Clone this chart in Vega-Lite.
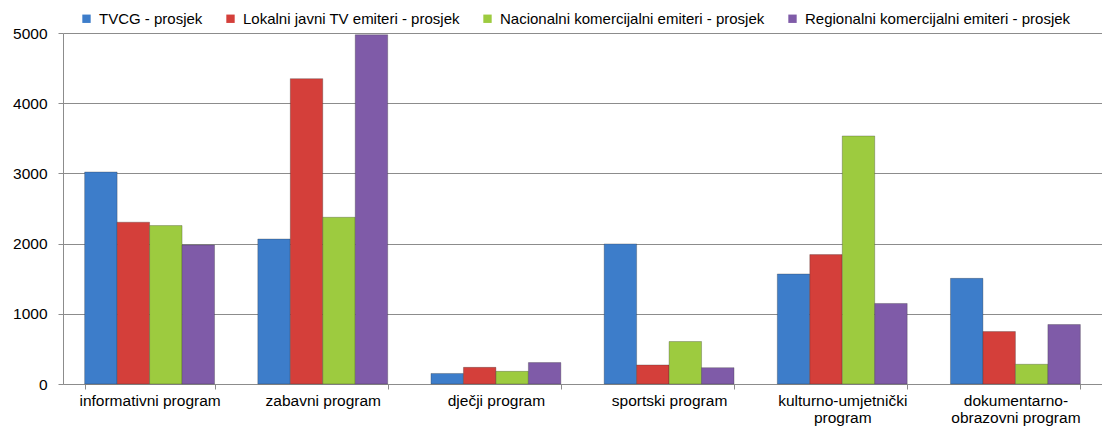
{
  "$schema": "https://vega.github.io/schema/vega-lite/v6.json",
  "width": 1039,
  "height": 351,
  "autosize": {"type": "none"},
  "padding": {"left": 63, "top": 33, "right": 0, "bottom": 44},
  "background": "white",
  "config": {"view": {"stroke": null}, "font": "Liberation Sans"},
  "data": {
    "values": [
      {"program": "informativni program", "serija": "TVCG - prosjek", "vrijednost": 3020},
      {"program": "informativni program", "serija": "Lokalni javni TV emiteri - prosjek", "vrijednost": 2305},
      {"program": "informativni program", "serija": "Nacionalni komercijalni emiteri - prosjek", "vrijednost": 2257},
      {"program": "informativni program", "serija": "Regionalni komercijalni emiteri - prosjek", "vrijednost": 1980},
      {"program": "zabavni program", "serija": "TVCG - prosjek", "vrijednost": 2065},
      {"program": "zabavni program", "serija": "Lokalni javni TV emiteri - prosjek", "vrijednost": 4350},
      {"program": "zabavni program", "serija": "Nacionalni komercijalni emiteri - prosjek", "vrijednost": 2375},
      {"program": "zabavni program", "serija": "Regionalni komercijalni emiteri - prosjek", "vrijednost": 4975},
      {"program": "dječji program", "serija": "TVCG - prosjek", "vrijednost": 150},
      {"program": "dječji program", "serija": "Lokalni javni TV emiteri - prosjek", "vrijednost": 237},
      {"program": "dječji program", "serija": "Nacionalni komercijalni emiteri - prosjek", "vrijednost": 180},
      {"program": "dječji program", "serija": "Regionalni komercijalni emiteri - prosjek", "vrijednost": 305},
      {"program": "sportski program", "serija": "TVCG - prosjek", "vrijednost": 1995},
      {"program": "sportski program", "serija": "Lokalni javni TV emiteri - prosjek", "vrijednost": 271},
      {"program": "sportski program", "serija": "Nacionalni komercijalni emiteri - prosjek", "vrijednost": 605},
      {"program": "sportski program", "serija": "Regionalni komercijalni emiteri - prosjek", "vrijednost": 233},
      {"program": "kulturno-umjetnički program", "serija": "TVCG - prosjek", "vrijednost": 1567},
      {"program": "kulturno-umjetnički program", "serija": "Lokalni javni TV emiteri - prosjek", "vrijednost": 1843},
      {"program": "kulturno-umjetnički program", "serija": "Nacionalni komercijalni emiteri - prosjek", "vrijednost": 3533},
      {"program": "kulturno-umjetnički program", "serija": "Regionalni komercijalni emiteri - prosjek", "vrijednost": 1147},
      {"program": "dokumentarno-obrazovni program", "serija": "TVCG - prosjek", "vrijednost": 1505},
      {"program": "dokumentarno-obrazovni program", "serija": "Lokalni javni TV emiteri - prosjek", "vrijednost": 747},
      {"program": "dokumentarno-obrazovni program", "serija": "Nacionalni komercijalni emiteri - prosjek", "vrijednost": 281},
      {"program": "dokumentarno-obrazovni program", "serija": "Regionalni komercijalni emiteri - prosjek", "vrijednost": 847}
    ]
  },
  "mark": {"type": "bar", "stroke": "#303030", "strokeWidth": 0.6, "strokeOpacity": 0.5},
  "encoding": {
    "x": {
      "field": "program",
      "type": "nominal",
      "sort": ["informativni program", "zabavni program", "dječji program", "sportski program", "kulturno-umjetnički program", "dokumentarno-obrazovni program"],
      "scale": {"paddingInner": 0.25, "paddingOuter": 0.125},
      "axis": {
        "title": null,
        "labelAngle": 0,
        "tickBand": "extent",
        "domainColor": "#8c8c8c",
        "tickColor": "#8c8c8c",
        "tickSize": 5,
        "labelFontSize": 15.5,
        "labelColor": "#000000",
        "labelPadding": 4,
        "labelLineHeight": 17,
        "labelLimit": 300,
        "labelExpr": "datum.value == 'kulturno-umjetnički program' ? ['kulturno-umjetnički', 'program'] : datum.value == 'dokumentarno-obrazovni program' ? ['dokumentarno-', 'obrazovni program'] : datum.value"
      }
    },
    "xOffset": {
      "field": "serija",
      "type": "nominal",
      "sort": ["TVCG - prosjek", "Lokalni javni TV emiteri - prosjek", "Nacionalni komercijalni emiteri - prosjek", "Regionalni komercijalni emiteri - prosjek"],
      "scale": {"paddingInner": 0, "paddingOuter": 0}
    },
    "y": {
      "field": "vrijednost",
      "type": "quantitative",
      "scale": {"domain": [0, 5000], "nice": false},
      "axis": {
        "title": null,
        "values": [0, 1000, 2000, 3000, 4000, 5000],
        "format": "d",
        "gridColor": "#8c8c8c",
        "gridOpacity": 1,
        "domainColor": "#8c8c8c",
        "tickColor": "#8c8c8c",
        "tickSize": 5,
        "labelFontSize": 15.5,
        "labelColor": "#000000",
        "labelPadding": 11
      }
    },
    "color": {
      "field": "serija",
      "type": "nominal",
      "sort": ["TVCG - prosjek", "Lokalni javni TV emiteri - prosjek", "Nacionalni komercijalni emiteri - prosjek", "Regionalni komercijalni emiteri - prosjek"],
      "scale": {
        "domain": ["TVCG - prosjek", "Lokalni javni TV emiteri - prosjek", "Nacionalni komercijalni emiteri - prosjek", "Regionalni komercijalni emiteri - prosjek"],
        "range": ["#3D7DCA", "#D43F3A", "#9DCB3F", "#7F5BA8"]
      },
      "legend": {
        "title": null,
        "orient": "none",
        "legendX": 16,
        "legendY": -22,
        "direction": "horizontal",
        "symbolType": "square",
        "symbolSize": 70,
        "symbolStrokeWidth": 0,
        "labelFontSize": 15,
        "labelColor": "#000000",
        "labelLimit": 400,
        "columnPadding": 20,
        "labelOffset": 5
      }
    }
  }
}
